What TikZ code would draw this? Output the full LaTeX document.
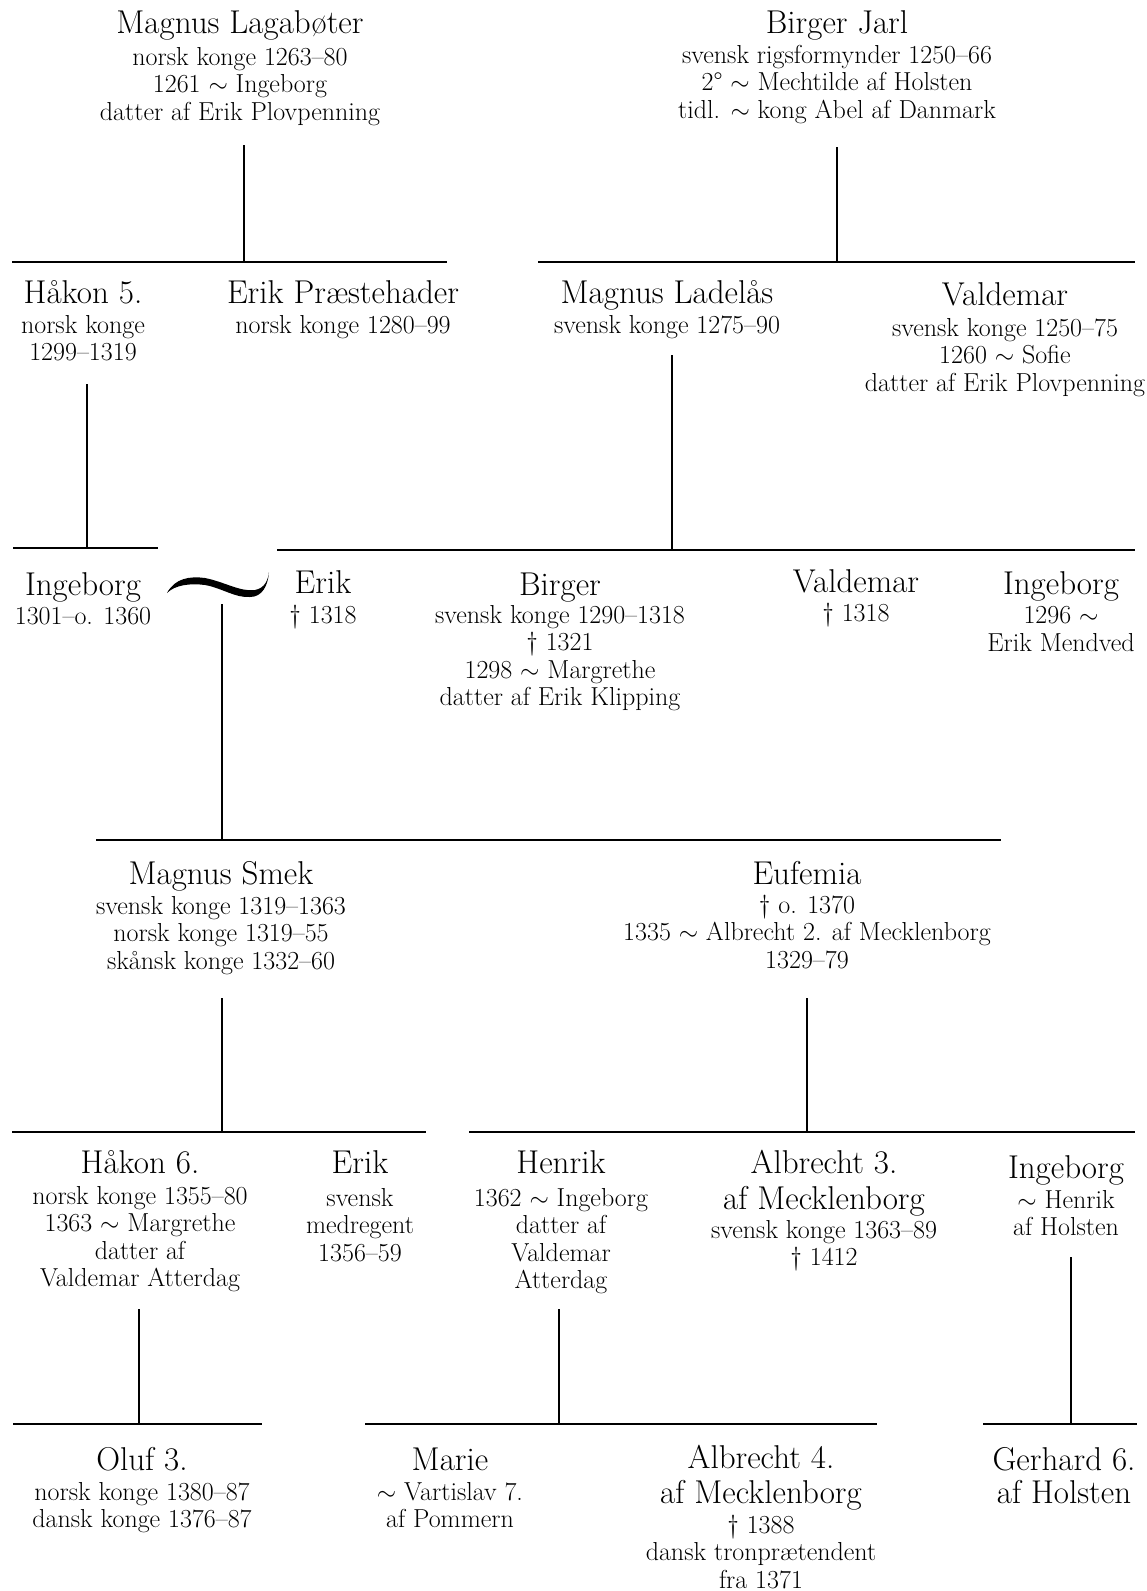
\documentclass[tikz,border=0pt]{standalone}
\usepackage{fontspec}
\newcommand\nmf{\fontsize{33}{38}\selectfont}
\newcommand\sbf{\fontsize{26}{27.5}\selectfont}
\newcommand\pp[1]{\begin{tabular}[t]{@{}c@{}}#1\end{tabular}}
\tikzset{
  person/.style={anchor=base, inner sep=0pt, font=\sbf},
  bar/.style={line width=1.6pt, line cap=butt}
}
\begin{document}
\begin{tikzpicture}[x=1pt,y=-1pt]
\useasboundingbox[fill=white] (0,0) rectangle (1147,1591);

% ---------- generation 1
\node[person] (ml) at (240,33) {\pp{{\nmf Magnus Lagabøter}\\[4.5pt] norsk konge 1263--80\\ 1261 $\sim$ Ingeborg\\ datter af Erik Plovpenning}};
\node[person] (bj) at (837,33) {\pp{{\nmf Birger Jarl}\\[2.5pt] svensk rigsformynder 1250--66\\ 2\textdegree{} $\sim$ Mechtilde af Holsten\\ tidl. $\sim$ kong Abel af Danmark}};

% ---------- generation 2
\node[person] (h5) at (83,303) {\pp{{\nmf Håkon 5.}\\[2.5pt] norsk konge\\ 1299--1319}};
\node[person] (ep) at (343,303) {\pp{{\nmf Erik Præstehader}\\[2.5pt] norsk konge 1280--99}};
\node[person] (mla) at (667,303) {\pp{{\nmf Magnus Ladelås}\\[2.5pt] svensk konge 1275--90}};
\node[person] (va) at (1005,305) {\pp{{\nmf Valdemar}\\[3.5pt] svensk konge 1250--75\\ 1260 $\sim$ Sofie\\ datter af Erik Plovpenning}};

% ---------- generation 3
\node[person] (ing1) at (83,595) {\pp{{\nmf Ingeborg}\\[1.5pt] 1301--o. 1360}};
\node[person] (er1) at (323,593) {\pp{{\nmf Erik}\\[2.5pt] \textdagger{} 1318}};
\node[person] (bi) at (560,595) {\pp{{\nmf Birger}\\[0.5pt] svensk konge 1290--1318\\ \textdagger{} 1321\\ 1298 $\sim$ Margrethe\\ datter af Erik Klipping}};
\node[person] (va2) at (856,592) {\pp{{\nmf Valdemar}\\[1.5pt] \textdagger{} 1318}};
\node[person] (ing2) at (1061,594) {\pp{{\nmf Ingeborg}\\[2pt] 1296 $\sim$\\ Erik Mendved}};

% marriage swash
\fill (167,593) .. controls (175,578) and (190,576) .. (205,578)
      .. controls (225,582) and (240,592) .. (255,590)
      .. controls (265,588) and (268,580) .. (269,572)
      .. controls (268,586) and (262,597) .. (250,597)
      .. controls (235,598) and (222,588) .. (205,585)
      .. controls (190,583) and (175,585) .. (167,593) -- cycle;

% ---------- generation 4
\node[person] (ms) at (221,884) {\pp{{\nmf Magnus Smek}\\[2.5pt] svensk konge 1319--1363\\ norsk konge 1319--55\\ skånsk konge 1332--60}};
\node[person] (eu) at (807,884) {\pp{{\nmf Eufemia}\\[1.5pt] \textdagger{} o. 1370\\ 1335 $\sim$ Albrecht 2. af Mecklenborg\\ 1329--79}};

% ---------- generation 5
\node[person] (h6) at (140,1173) {\pp{{\nmf Håkon 6.}\\[3.5pt] norsk konge 1355--80\\ 1363 $\sim$ Margrethe\\ datter af\\ Valdemar Atterdag}};
\node[person] (er2) at (360,1173) {\pp{{\nmf Erik}\\[5.5pt] svensk\\ medregent\\ 1356--59}};
\node[person] (he) at (561,1173) {\pp{{\nmf Henrik}\\[5.5pt] 1362 $\sim$ Ingeborg\\ datter af\\ Valdemar\\ Atterdag}};
\node[person] (al3) at (824,1173) {\pp{{\nmf Albrecht 3.}\\[5pt] {\nmf af Mecklenborg}\\[1.5pt] svensk konge 1363--89\\ \textdagger{} 1412}};
\node[person] (ing3) at (1066,1178) {\pp{{\nmf Ingeborg}\\[2.5pt] $\sim$ Henrik\\ af Holsten}};

% ---------- generation 6
\node[person] (ol) at (142,1470) {\pp{{\nmf Oluf 3.}\\[2.5pt] norsk konge 1380--87\\ dansk konge 1376--87}};
\node[person] (ma) at (450,1470) {\pp{{\nmf Marie}\\[2.5pt] $\sim$ Vartislav 7.\\ af Pommern}};
\node[person] (al4) at (761,1468) {\pp{{\nmf Albrecht 4.}\\[4pt] {\nmf af Mecklenborg}\\[2.5pt] \textdagger{} 1388\\ dansk tronprætendent\\ fra 1371}};
\node[person] (ge) at (1064,1470) {\pp{{\nmf Gerhard 6.}\\[2pt] {\nmf af Holsten}}};

% ---------- junction coordinates
\coordinate (t1) at (244,145);  \coordinate (j1) at (244,262);
\coordinate (a1) at (12,262);   \coordinate (b1) at (447,262);
\coordinate (t2) at (837,147);  \coordinate (j2) at (837,262);
\coordinate (a2) at (538,262);  \coordinate (b2) at (1135,262);
\coordinate (t3) at (87,384);   \coordinate (j3) at (87,548);
\coordinate (a3) at (13,548);   \coordinate (b3) at (158,548);
\coordinate (t4) at (672,355);  \coordinate (j4) at (672,550);
\coordinate (a4) at (277,550);  \coordinate (b4) at (1135,550);
\coordinate (t5) at (222,604);  \coordinate (j5) at (222,840);
\coordinate (a5) at (96,840);   \coordinate (b5) at (1001,840);
\coordinate (t6) at (222,998);  \coordinate (j6) at (222,1132);
\coordinate (a6) at (12,1132);  \coordinate (b6) at (426,1132);
\coordinate (t7) at (807,998);  \coordinate (j7) at (807,1132);
\coordinate (a7) at (469,1132); \coordinate (b7) at (1135,1132);
\coordinate (t8) at (139,1309); \coordinate (j8) at (139,1424);
\coordinate (a8) at (13,1424);  \coordinate (b8) at (262,1424);
\coordinate (t9) at (559,1309); \coordinate (j9) at (559,1424);
\coordinate (a9) at (365,1424); \coordinate (b9) at (877,1424);
\coordinate (t10) at (1071,1257); \coordinate (j10) at (1071,1424);
\coordinate (a10) at (983,1424);  \coordinate (b10) at (1137,1424);

\foreach \i in {1,...,10}{
  \draw[bar] (t\i) -- (j\i);
  \draw[bar] (a\i) -- (b\i);
}
\end{tikzpicture}
\end{document}
